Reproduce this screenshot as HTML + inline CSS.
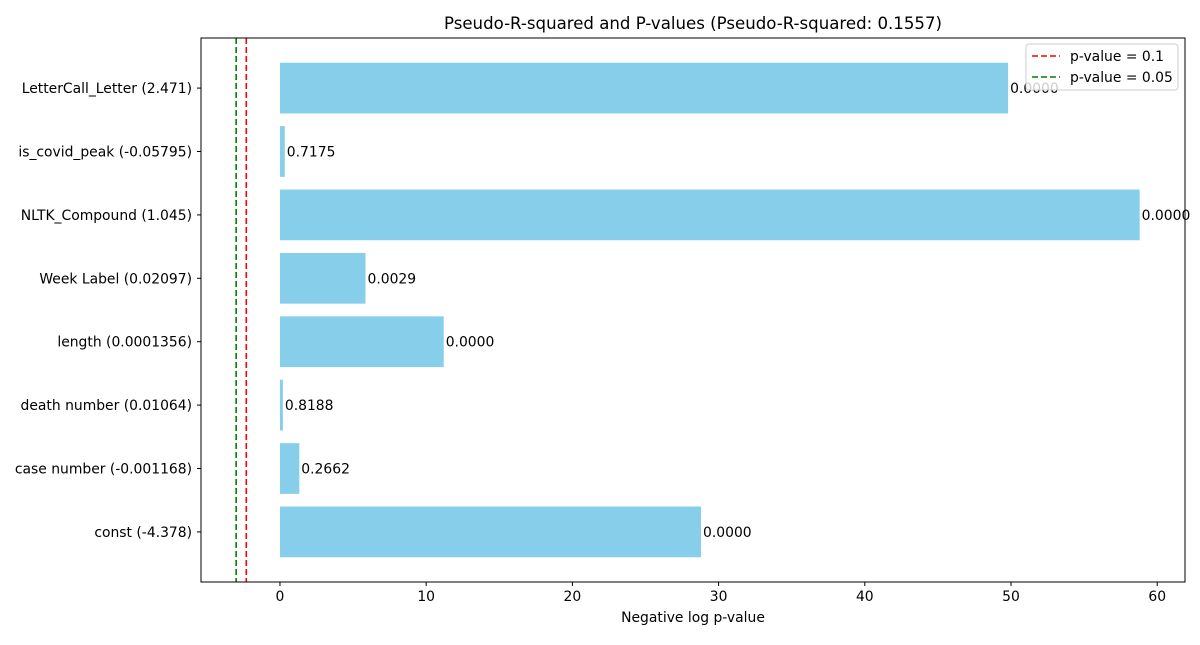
<!DOCTYPE html>
<html><head><meta charset="utf-8"><style>
body{margin:0;background:#fff;}
svg text{font-family:"DejaVu Sans","Liberation Sans",sans-serif;}
</style></head><body>
<svg id="chart" width="1200" height="640" xmlns="http://www.w3.org/2000/svg">
<rect width="1200" height="640" fill="#fff"/>
<text x="693" y="29" font-size="16.6" text-anchor="middle">Pseudo-R-squared and P-values (Pseudo-R-squared: 0.1557)</text>
<g id="bars"></g>
<g id="axes"></g>
<text x="693" y="622" font-size="13.9" text-anchor="middle">Negative log p-value</text>
</svg>
<script>
const categories=["LetterCall_Letter (2.471)","is_covid_peak (-0.05795)","NLTK_Compound (1.045)","Week Label (0.02097)","length (0.0001356)","death number (0.01064)","case number (-0.001168)","const (-4.378)"];
const pValues=[0.0000,0.7175,0.0000,0.0029,0.0000,0.8188,0.2662,0.0000];
const negLogP=[49.8,0.332,58.8,5.85,11.2,0.2,1.324,28.8];
const xTicks=[0,10,20,30,40,50,60];
const thresholds=[0.1,0.05];
const L=201,R=1185,T=38,B=582;
const xMin=-5.4,xMax=61.9;
const X=v=>L+(v-xMin)/(xMax-xMin)*(R-L);
const n=categories.length;
const yMin=-0.79,yMax=n-1+0.79;
const Y=i=>T+(i-yMin)/(yMax-yMin)*(B-T);
const ns="http://www.w3.org/2000/svg";
function mk(tag,attrs,parent,txt){const e=document.createElementNS(ns,tag);for(const k in attrs)e.setAttribute(k,attrs[k]);if(txt!==undefined)e.textContent=txt;parent.appendChild(e);return e;}
const bars=document.getElementById('bars'),axes=document.getElementById('axes');
const bh=(Y(0.8)-Y(0));
const FS=13.9;
categories.forEach((c,i)=>{
 const r=mk('rect',{x:X(0),y:Y(i)-bh/2,width:X(negLogP[i])-X(0),height:bh,fill:'#87ceeb'},bars);
 
 
 const t=mk('text',{x:X(negLogP[i])+2,y:Y(i)+5,'font-size':FS},bars,pValues[i].toFixed(4));
 
 
 mk('line',{x1:L-4,x2:L,y1:Y(i),y2:Y(i),stroke:'#000'},axes);
 const yl=mk('text',{x:L-9,y:Y(i)+5,'font-size':FS,'text-anchor':'end'},axes,c);
 
 
});
const colors=['#ff0000','#008000'];
thresholds.forEach((p,k)=>{
 const ln=mk('line',{x1:X(Math.log(p)),x2:X(Math.log(p)),y1:T,y2:B,stroke:colors[k],'stroke-width':1.6,'stroke-dasharray':'6,3'},bars);
 
 
});
xTicks.forEach(v=>{
 mk('line',{x1:X(v),x2:X(v),y1:B,y2:B+4,stroke:'#000'},axes);
 const t=mk('text',{x:X(v),y:B+19,'font-size':FS,'text-anchor':'middle'},axes,v);
 
 
});
mk('rect',{x:L,y:T,width:R-L,height:B-T,fill:'none',stroke:'#000','stroke-width':1},axes);
const lg=mk('g',{},axes);


mk('rect',{x:1026,y:44,width:152,height:46,rx:3,fill:'#fff','fill-opacity':0.8,stroke:'#ccc'},lg);
thresholds.forEach((p,k)=>{
 const yy=56+k*21;
 mk('line',{x1:1032,x2:1060,y1:yy,y2:yy,stroke:colors[k],'stroke-width':1.6,'stroke-dasharray':'6,3'},lg);
 const t=mk('text',{x:1070,y:yy+5,'font-size':FS},lg,'p-value = '+p);
 
 
});
</script>
</body></html>
